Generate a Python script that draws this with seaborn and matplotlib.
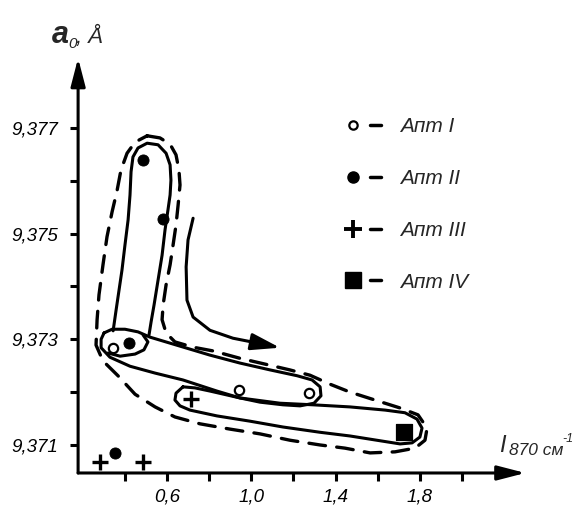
import numpy as np
import matplotlib
matplotlib.use("Agg")
import matplotlib.pyplot as plt
from matplotlib.lines import Line2D
from matplotlib.legend_handler import HandlerTuple
import pandas as pd
import seaborn as sns

# ─── STYLE ────────────────────────────────────────────────────────────────────
sns.set_theme(style="white")
plt.rcParams["font.family"] = ["Liberation Sans", "DejaVu Sans"]
plt.rcParams["font.style"] = "italic"
INK = "black"
LW = 2.2

# ─── DATA ─────────────────────────────────────────────────────────────────────
APT1_X = [0.346, 0.943, 1.274]
APT1_Y = [9.37284, 9.37204, 9.37198]
APT2_X = [0.488, 0.583, 0.421, 0.355]
APT2_Y = [9.37639, 9.37528, 9.37293, 9.37085]
APT3_X = [0.284, 0.488, 0.715]
APT3_Y = [9.37068, 9.37068, 9.37187]
APT4_X = [1.725]
APT4_Y = [9.37125]

SERIES_NAMES = ["Апт I", "Апт II", "Апт III", "Апт IV"]

X_TICKS = [0.4, 0.6, 0.8, 1.0, 1.2, 1.4, 1.6, 1.8, 2.0]
X_TICK_LABELS = ["", "0,6", "", "1,0", "", "1,4", "", "1,8", ""]
Y_TICKS = [9.371, 9.372, 9.373, 9.374, 9.375, 9.376, 9.377]
Y_TICK_LABELS = ["9,371", "", "9,373", "", "9,375", "", "9,377"]

X_MIN, X_MAX, X_AXIS_END = 0.18, 2.5, 2.30
Y_MIN, Y_MAX, Y_AXIS_END = 9.37047, 9.3790, 9.37832

# hand-drawn outlines (data units)
LOOP_II_X = [0.346, 0.360, 0.374, 0.388, 0.402, 0.417, 0.426, 0.431, 0.440, 0.464,
             0.507, 0.559, 0.597, 0.616, 0.620, 0.616, 0.606, 0.592, 0.578, 0.559,
             0.540, 0.526, 0.516]
LOOP_II_Y = [9.37316, 9.37355, 9.37393, 9.37431, 9.37478, 9.37526, 9.37573, 9.37617,
             9.37645, 9.37662, 9.37671, 9.37668, 9.37652, 9.37630, 9.37601, 9.37573,
             9.37545, 9.37507, 9.37459, 9.37412, 9.37365, 9.37333, 9.37308]

LOOP_I_X = [0.303, 0.341, 0.402, 0.464, 0.521, 0.663, 0.805, 0.947, 1.090, 1.218,
            1.289, 1.327, 1.331, 1.298, 1.232, 1.151, 1.042, 0.947, 0.838, 0.677,
            0.545, 0.426, 0.331, 0.289, 0.289]
LOOP_I_Y = [9.37312, 9.37319, 9.37319, 9.37314, 9.37304, 9.37287, 9.37270, 9.37255,
            9.37242, 9.37231, 9.37223, 9.37210, 9.37193, 9.37179, 9.37174, 9.37176,
            9.37181, 9.37189, 9.37202, 9.37223, 9.37236, 9.37249, 9.37266, 9.37284,
            9.37300]

BULB_X = [0.488, 0.511, 0.492, 0.450, 0.379, 0.322]
BULB_Y = [9.37308, 9.37295, 9.37280, 9.37272, 9.37268, 9.37274]

LOOP_IV_X = [0.677, 0.644, 0.639, 0.663, 0.710, 0.838, 0.995, 1.151, 1.327, 1.469,
             1.611, 1.706, 1.763, 1.800, 1.810, 1.786, 1.729, 1.635, 1.469, 1.293,
             1.137, 0.947, 0.805, 0.734]
LOOP_IV_Y = [9.37210, 9.37198, 9.37185, 9.37174, 9.37166, 9.37155, 9.37145, 9.37134,
             9.37124, 9.37117, 9.37108, 9.37102, 9.37104, 9.37115, 9.37132, 9.37149,
             9.37161, 9.37166, 9.37172, 9.37176, 9.37179, 9.37189, 9.37202, 9.37208]

ENVELOPE_X = [0.507, 0.568, 0.616, 0.644, 0.658, 0.663, 0.654, 0.644, 0.630, 0.616,
              0.597, 0.583, 0.578, 0.597, 0.639, 0.725, 0.819, 0.947, 1.066, 1.184,
              1.279, 1.374, 1.469, 1.587, 1.706, 1.791, 1.834, 1.824, 1.777, 1.682,
              1.564, 1.445, 1.327, 1.184, 1.042, 0.900, 0.758, 0.639, 0.545, 0.450,
              0.369, 0.298, 0.265, 0.270, 0.279, 0.298, 0.317, 0.341, 0.365, 0.383,
              0.412, 0.450]
ENVELOPE_Y = [9.37685, 9.37681, 9.37669, 9.37649, 9.37620, 9.37592, 9.37554, 9.37516,
              9.37478, 9.37441, 9.37403, 9.37365, 9.37337, 9.37312, 9.37295, 9.37285,
              9.37278, 9.37264, 9.37253, 9.37242, 9.37232, 9.37215, 9.37200, 9.37185,
              9.37170, 9.37157, 9.37132, 9.37109, 9.37094, 9.37087, 9.37085, 9.37094,
              9.37100, 9.37109, 9.37121, 9.37130, 9.37140, 9.37153, 9.37172, 9.37196,
              9.37231, 9.37259, 9.37289, 9.37337, 9.37384, 9.37441, 9.37494, 9.37541,
              9.37582, 9.37620, 9.37652, 9.37673]

TREND_X = [0.725, 0.701, 0.692, 0.696, 0.725, 0.805, 0.914, 1.028, 1.137]
TREND_Y = [9.37529, 9.37488, 9.37437, 9.37374, 9.37342, 9.37317, 9.37302, 9.37293, 9.37284]


def closed(xs, ys):
    return np.append(xs, xs[0]), np.append(ys, ys[0])


def main():
    fig = plt.figure(figsize=(5.73, 5.12), dpi=100)
    ax = fig.add_axes([0.1363, 0.0762, 0.8543, 0.8805])
    ax.set_xlim(X_MIN, X_MAX)
    ax.set_ylim(Y_MIN, Y_MAX)
    for sp in ax.spines.values():
        sp.set_visible(False)

    solid = dict(color=INK, lw=LW, solid_capstyle="round", solid_joinstyle="round", zorder=2)
    ax.plot(*closed(LOOP_I_X, LOOP_I_Y), **solid)
    ax.plot(*closed(LOOP_IV_X, LOOP_IV_Y), **solid)
    ax.plot(LOOP_II_X, LOOP_II_Y, **solid)
    ax.plot(BULB_X, BULB_Y, **solid)
    ax.plot(*closed(ENVELOPE_X, ENVELOPE_Y), color=INK, lw=LW + 0.2, dashes=(5, 3.4),
            dash_capstyle="round", zorder=2)

    # trend arrow
    ax.plot(TREND_X[:-1], TREND_Y[:-1], **solid)
    ax.annotate("", xy=(TREND_X[-1], TREND_Y[-1]), xytext=(TREND_X[-2], TREND_Y[-2]),
                arrowprops=dict(arrowstyle="-|>,head_length=1.1,head_width=0.32",
                                color=INK, lw=LW, mutation_scale=16,
                                shrinkA=0, shrinkB=0))

    # points
    df = pd.DataFrame({
        "x": APT1_X + APT2_X + APT3_X + APT4_X,
        "y": APT1_Y + APT2_Y + APT3_Y + APT4_Y,
        "series": ([SERIES_NAMES[0]] * len(APT1_X) + [SERIES_NAMES[1]] * len(APT2_X)
                   + [SERIES_NAMES[2]] * len(APT3_X) + [SERIES_NAMES[3]] * len(APT4_X)),
    })
    sub = df[df.series == SERIES_NAMES[0]]
    sns.scatterplot(data=sub, x="x", y="y", marker="o", s=45, facecolor="white",
                    edgecolor=INK, linewidth=1.6, ax=ax, zorder=4, legend=False)
    sub = df[df.series == SERIES_NAMES[1]]
    sns.scatterplot(data=sub, x="x", y="y", marker="o", s=64, color=INK,
                    edgecolor=INK, ax=ax, zorder=4, legend=False)
    sub = df[df.series == SERIES_NAMES[2]]
    sns.scatterplot(data=sub, x="x", y="y", marker="+", s=130, color=INK,
                    linewidth=2.4, ax=ax, zorder=4, legend=False)
    sub = df[df.series == SERIES_NAMES[3]]
    sns.scatterplot(data=sub, x="x", y="y", marker="s", s=125, color=INK,
                    edgecolor=INK, ax=ax, zorder=4, legend=False)

    # axes with arrows
    head = "-|>,head_length=0.85,head_width=0.22"
    ax.annotate("", xy=(X_AXIS_END, Y_MIN), xytext=(X_MIN, Y_MIN), annotation_clip=False,
                arrowprops=dict(arrowstyle=head, color=INK, lw=LW, mutation_scale=20,
                                shrinkA=0, shrinkB=0))
    ax.annotate("", xy=(X_MIN, Y_AXIS_END), xytext=(X_MIN, Y_MIN), annotation_clip=False,
                arrowprops=dict(arrowstyle=head, color=INK, lw=LW, mutation_scale=20,
                                shrinkA=0, shrinkB=0))

    ax.set_xticks(X_TICKS)
    ax.set_xticklabels(X_TICK_LABELS)
    ax.set_yticks(Y_TICKS)
    ax.set_yticklabels(Y_TICK_LABELS)
    ax.tick_params(axis="both", bottom=True, left=True, direction="out", length=6,
                   width=LW, color=INK, labelsize=13.5, labelcolor=INK)
    ax.tick_params(axis="x", pad=5)
    ax.tick_params(axis="y", pad=8.5)
    ax.set_xlabel("")
    ax.set_ylabel("")

    # axis titles
    fig.text(0.0905, 0.916, "a", fontsize=22, weight="bold", va="baseline")
    fig.text(0.1190, 0.906, "0", fontsize=11, va="baseline")
    fig.text(0.1330, 0.916, ", Å", fontsize=16, va="baseline")
    fig.text(0.871, 0.117, "I", fontsize=17, va="baseline")
    fig.text(0.889, 0.111, "870 см", fontsize=12.5, va="baseline")
    fig.text(0.982, 0.137, "-1", fontsize=9, va="baseline")

    # legend
    handles = [
        (Line2D([], [], marker="o", ms=6, mfc="white", mec=INK, mew=1.6, ls="none"),
         Line2D([], [], color=INK, lw=LW + 0.3)),
        (Line2D([], [], marker="o", ms=8, mfc=INK, mec=INK, ls="none"),
         Line2D([], [], color=INK, lw=LW + 0.3)),
        (Line2D([], [], marker="+", ms=13, mec=INK, mew=2.8, ls="none"),
         Line2D([], [], color=INK, lw=LW + 0.3)),
        (Line2D([], [], marker="s", ms=12, mfc=INK, mec=INK, ls="none"),
         Line2D([], [], color=INK, lw=LW + 0.3)),
    ]
    fig.legend(handles, SERIES_NAMES, loc="upper left",
               bbox_to_anchor=(347.5 / 573, 0.7715), bbox_transform=fig.transFigure,
               handler_map={tuple: HandlerTuple(ndivide=None, pad=0.55)},
               frameon=False, fontsize=15, handlelength=1.61, handletextpad=0.91,
               labelspacing=1.58, borderpad=0, borderaxespad=0)

    fig.savefig("out.png", dpi=100)


if __name__ == "__main__":
    main()
